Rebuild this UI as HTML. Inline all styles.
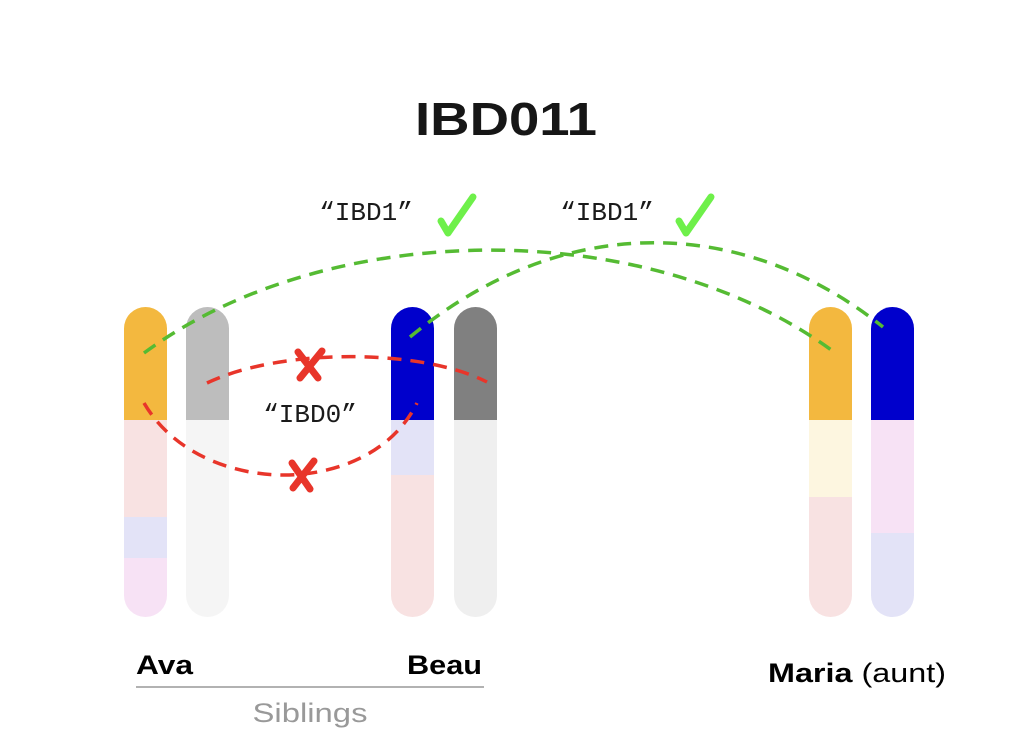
<!DOCTYPE html>
<html><head><style>
body{margin:0;background:#fff;}
svg{display:block;}
</style></head><body>
<svg width="1024" height="756" viewBox="0 0 1024 756" xmlns="http://www.w3.org/2000/svg">
<defs>
<clipPath id="c1"><rect x="124" y="307" width="43" height="310" rx="21.5"/></clipPath>
<clipPath id="c2"><rect x="186" y="307" width="43" height="310" rx="21.5"/></clipPath>
<clipPath id="c3"><rect x="391" y="307" width="43" height="310" rx="21.5"/></clipPath>
<clipPath id="c4"><rect x="454" y="307" width="43" height="310" rx="21.5"/></clipPath>
<clipPath id="c5"><rect x="809" y="307" width="43" height="310" rx="21.5"/></clipPath>
<clipPath id="c6"><rect x="871" y="307" width="43" height="310" rx="21.5"/></clipPath>
</defs>
<text x="506" y="135" font-family="Liberation Sans, sans-serif" font-weight="bold" font-size="46" text-anchor="middle" fill="#161616" textLength="182" lengthAdjust="spacingAndGlyphs">IBD011</text>
<g clip-path="url(#c1)"><rect x="124" y="307" width="43" height="113" fill="#f3b83f"/><rect x="124" y="420" width="43" height="97" fill="#f8e2e2"/><rect x="124" y="517" width="43" height="41" fill="#e3e3f7"/><rect x="124" y="558" width="43" height="59" fill="#f7e2f5"/></g>
<g clip-path="url(#c2)"><rect x="186" y="307" width="43" height="113" fill="#bdbdbd"/><rect x="186" y="420" width="43" height="197" fill="#f5f5f5"/></g>
<g clip-path="url(#c3)"><rect x="391" y="307" width="43" height="113" fill="#0000cc"/><rect x="391" y="420" width="43" height="55" fill="#e3e3f7"/><rect x="391" y="475" width="43" height="142" fill="#f8e2e2"/></g>
<g clip-path="url(#c4)"><rect x="454" y="307" width="43" height="113" fill="#808080"/><rect x="454" y="420" width="43" height="197" fill="#efefef"/></g>
<g clip-path="url(#c5)"><rect x="809" y="307" width="43" height="113" fill="#f3b83f"/><rect x="809" y="420" width="43" height="77" fill="#fdf6e0"/><rect x="809" y="497" width="43" height="120" fill="#f8e2e2"/></g>
<g clip-path="url(#c6)"><rect x="871" y="307" width="43" height="113" fill="#0000cc"/><rect x="871" y="420" width="43" height="113" fill="#f7e2f5"/><rect x="871" y="533" width="43" height="84" fill="#e3e3f7"/></g>
<g fill="none" stroke-width="3.5" stroke-dasharray="14,9">
<path d="M144 353 C330 216 650 216 834 352" stroke="#55bb33"/>
<path d="M410 337 C560 213 740 213 883 327" stroke="#55bb33"/>
<path d="M207 383 C280 348 420 348 487 382" stroke="#e8352a"/>
<path d="M144 403 C200 499 370 499 417 403" stroke="#e8352a"/>
</g>
<g stroke="#e8352a" stroke-width="7" stroke-linecap="round" fill="none">
<path d="M298 352 L318 378 M322 351 L300 378"/>
<path d="M292 463 L310 489 M314 461 L293 488"/>
</g>
<g stroke="#6ef04a" stroke-width="7" stroke-linecap="round" stroke-linejoin="round" fill="none">
<path d="M441 221 L448 233 L473 197"/>
<path d="M679 221 L686 233 L711 197"/>
</g>
<g font-family="Liberation Mono, monospace" font-size="26" fill="#1a1a1a" text-anchor="middle">
<text x="366" y="220">“IBD1”</text><text x="607" y="220">“IBD1”</text><text x="310" y="422">“IBD0”</text>
</g>
<g font-family="Liberation Sans, sans-serif" font-size="27" fill="#000">
<text x="136" y="674" font-weight="bold" textLength="57" lengthAdjust="spacingAndGlyphs">Ava</text>
<text x="407" y="674" font-weight="bold" textLength="75" lengthAdjust="spacingAndGlyphs">Beau</text>
<text x="768" y="682" textLength="178" lengthAdjust="spacingAndGlyphs"><tspan font-weight="bold">Maria</tspan> (aunt)</text>
</g>
<line x1="136" y1="687" x2="484" y2="687" stroke="#999" stroke-width="1.5"/>
<text x="310" y="722" font-family="Liberation Sans, sans-serif" font-size="27" fill="#999" text-anchor="middle" textLength="115" lengthAdjust="spacingAndGlyphs">Siblings</text>
</svg>
</body></html>
